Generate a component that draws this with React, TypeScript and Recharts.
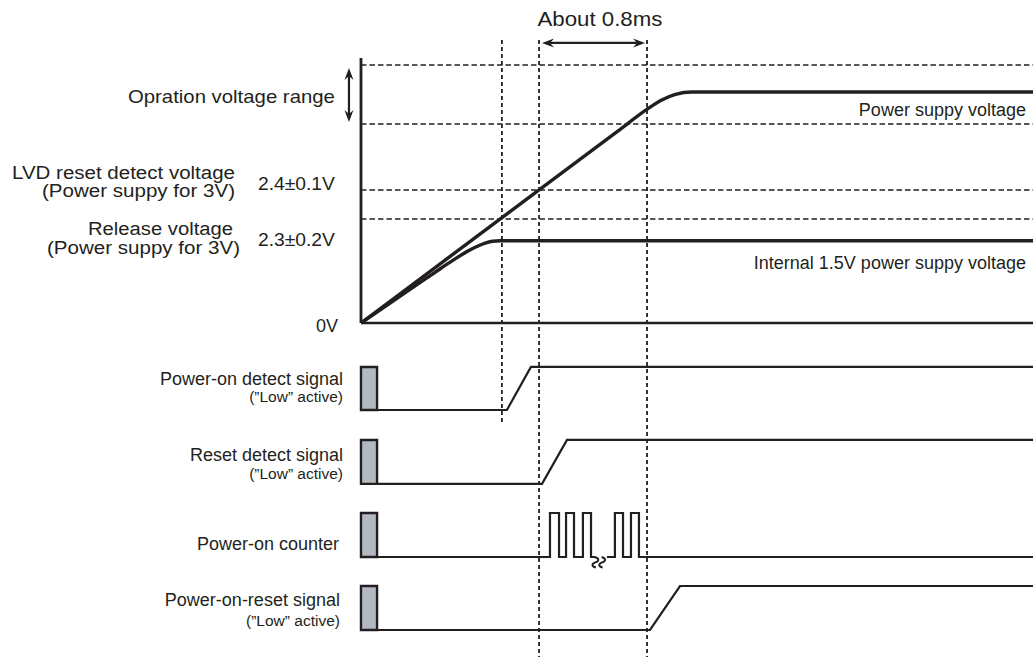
import { LineChart, Line, XAxis, YAxis, ReferenceLine, ReferenceArea, ReferenceDot } from "recharts";

const INK = "#231f20";
const BOX_FILL = "#b3b9c1";
const FONT = '"Liberation Sans", Arial, Helvetica, sans-serif';

// x = time in ms (0 = power applied), y = diagram level (0 = 0V)
const X_DOMAIN = [-2.674, 4.978];
const Y_DOMAIN = [-4.338, 4.195];
const T_END = 4.978;

// voltage panel
const supplyT = [0, 1.0, 1.9, 2.12, 2.22, 2.33, 2.45, T_END];
const supplyV = [0, 1.31, 2.489, 2.777, 2.89, 2.97, 3.0, 3.0];
const internalT = [0, 0.24, 0.48, 0.59, 0.7, 0.81, 0.92, 0.975, 1.03, T_END];
const internalV = [0, 0.288, 0.576, 0.708, 0.836, 0.95, 1.036, 1.062, 1.068, 1.068];
const dashedLevels = [3.35, 2.585, 1.727, 1.351];
const axisTop = 3.442;

// event times (vertical dashed markers)
const markerTimes = [1.044, 1.319, 2.119];
const markerTops = [3.676, 3.676, 3.676];
const markerBottoms = [-1.324, -4.338, -4.338];

// digital signals: [low, high] levels, edges
const detectLevels = [-1.13, -0.571];
const detectEdge = [1.081, 1.259];
const resetLevels = [-2.09, -1.519];
const resetEdge = [1.341, 1.526];
const counterLevels = [-3.039, -2.468];
const counterPulses = [
  [1.4, 1.467],
  [1.519, 1.578],
  [1.644, 1.704],
  [1.881, 1.941],
  [2.0, 2.059],
];
const counterBreak = [1.733, 1.822];
const squiggleT = [1.755, 1.805];
const porLevels = [-3.987, -3.416];
const porEdge = [2.141, 2.363];
const boxEnd = 0.119;

// texts
const voltageLabels = [
  "Opration voltage range",
  "LVD reset detect voltage",
  "(Power suppy for 3V)",
  "Release voltage",
  "(Power suppy for 3V)",
];
const voltageValues = ["2.4±0.1V", "2.3±0.2V", "0V"];
const signalNames = ["Power-on detect signal", "Reset detect signal", "Power-on counter", "Power-on-reset signal"];
const lowActive = "(”Low” active)";
const curveNames = ["Power suppy voltage", "Internal 1.5V power suppy voltage"];
const timeNote = "About 0.8ms";

const zip = (ts: number[], vs: number[]) => ts.map((t, i) => ({ t, v: vs[i] }));

const ramp = (lv: number[], edge: number[]) => [
  { t: boxEnd, v: lv[0] },
  { t: edge[0], v: lv[0] },
  { t: edge[1], v: lv[1] },
  { t: T_END, v: lv[1] },
];

const counterData = () => {
  const [lo, hi] = counterLevels;
  const pts: { t: number; v: number | null }[] = [{ t: boxEnd, v: lo }];
  counterPulses.forEach(([r, f], i) => {
    if (i === 3) {
      pts.push({ t: counterBreak[0], v: lo });
      pts.push({ t: (counterBreak[0] + counterBreak[1]) / 2, v: null });
      pts.push({ t: counterBreak[1], v: lo });
    }
    pts.push({ t: r, v: lo }, { t: r, v: hi }, { t: f, v: hi }, { t: f, v: lo });
  });
  pts.push({ t: T_END, v: lo });
  return pts;
};

const DoubleArrow = (p: any) => {
  const { x1, y1, x2, y2 } = p;
  const dx = x2 - x1;
  const dy = y2 - y1;
  const len = Math.hypot(dx, dy) || 1;
  const ux = dx / len;
  const uy = dy / len;
  const nx = -uy;
  const ny = ux;
  const L = 12;
  const W = 4.5;
  const N = 8;
  const head = (tx: number, ty: number, d: number) => {
    const bx = tx - d * ux * L;
    const by = ty - d * uy * L;
    const mx = tx - d * ux * N;
    const my = ty - d * uy * N;
    return `M${tx},${ty} L${bx + nx * W},${by + ny * W} L${mx},${my} L${bx - nx * W},${by - ny * W} Z `;
  };
  return (
    <g>
      <line x1={x1 + ux * 6} y1={y1 + uy * 6} x2={x2 - ux * 6} y2={y2 - uy * 6} stroke={INK} strokeWidth={2.2} />
      <path d={head(x2, y2, 1) + head(x1, y1, -1)} fill={INK} />
    </g>
  );
};

// small break mark hanging from the counter baseline
const Squiggle = (p: any) => {
  const { cx, cy } = p;
  return (
    <path
      d={`M${cx - 3},${cy} c 4.5,1.5 4.5,4 0.5,5.5 s -4,4 0.5,5`}
      fill="none"
      stroke={INK}
      strokeWidth={1.9}
    />
  );
};

const textShape = (text: string, size: number, anchor: "start" | "middle" | "end", width?: number) => (p: any) => (
  <text
    x={p.cx}
    y={p.cy}
    textAnchor={anchor}
    fontSize={size}
    fontFamily={FONT}
    fill={INK}
    textLength={width}
    lengthAdjust={width ? "spacingAndGlyphs" : undefined}
  >
    {text}
  </text>
);

type Lbl = { text: string; t: number; v: number; size: number; anchor: "start" | "middle" | "end"; w?: number };

const labels: Lbl[] = [
  { text: voltageLabels[0], t: -0.193, v: 2.857, size: 18.5, anchor: "end", w: 207 },
  { text: voltageLabels[1], t: -0.933, v: 1.87, size: 18, anchor: "end", w: 223 },
  { text: voltageLabels[2], t: -0.933, v: 1.637, size: 18, anchor: "end", w: 193 },
  { text: voltageLabels[3], t: -0.948, v: 1.143, size: 18, anchor: "end", w: 145 },
  { text: voltageLabels[4], t: -0.896, v: 0.896, size: 18, anchor: "end", w: 193 },
  { text: voltageValues[0], t: -0.193, v: 1.727, size: 18.5, anchor: "end", w: 77 },
  { text: voltageValues[1], t: -0.193, v: 1.0, size: 18.5, anchor: "end", w: 77 },
  { text: voltageValues[2], t: -0.17, v: -0.117, size: 18, anchor: "end" },
  { text: signalNames[0], t: -0.133, v: -0.805, size: 18, anchor: "end" },
  { text: lowActive, t: -0.133, v: -1.026, size: 15.5, anchor: "end" },
  { text: signalNames[1], t: -0.133, v: -1.792, size: 18, anchor: "end" },
  { text: lowActive, t: -0.133, v: -2.026, size: 15.5, anchor: "end" },
  { text: signalNames[2], t: -0.163, v: -2.948, size: 18, anchor: "end" },
  { text: signalNames[3], t: -0.156, v: -3.675, size: 18, anchor: "end" },
  { text: lowActive, t: -0.156, v: -3.935, size: 15.5, anchor: "end" },
  { text: curveNames[0], t: 4.926, v: 2.688, size: 18, anchor: "end" },
  { text: curveNames[1], t: 4.926, v: 0.701, size: 18, anchor: "end" },
  { text: timeNote, t: 1.77, v: 3.857, size: 21, anchor: "middle", w: 125 },
];

const boxes = [detectLevels, resetLevels, counterLevels, porLevels];

export default function App() {
  return (
    <div style={{ position: "absolute", left: 0, top: 0, background: "#fff" }}>
      <LineChart width={1033} height={657} margin={{ top: 0, right: 0, bottom: 0, left: 0 }}>
        <XAxis type="number" dataKey="t" domain={X_DOMAIN} allowDataOverflow hide />
        <YAxis type="number" domain={Y_DOMAIN} allowDataOverflow hide />

        {dashedLevels.map((v) => (
          <ReferenceLine
            key={`h${v}`}
            segment={[{ x: 0, y: v }, { x: T_END, y: v }]}
            stroke={INK}
            strokeWidth={1.6}
            strokeDasharray="5.5 3"
          />
        ))}
        {markerTimes.map((t, i) => (
          <ReferenceLine
            key={`m${t}`}
            segment={[{ x: t, y: markerTops[i] }, { x: t, y: markerBottoms[i] }]}
            stroke={INK}
            strokeWidth={1.8}
            strokeDasharray="4 3"
          />
        ))}

        <ReferenceLine segment={[{ x: 0, y: axisTop }, { x: 0, y: 0 }]} stroke={INK} strokeWidth={2.8} />
        <ReferenceLine segment={[{ x: 0, y: 0 }, { x: T_END, y: 0 }]} stroke={INK} strokeWidth={2.4} />

        <ReferenceLine segment={[{ x: -0.089, y: 3.312 }, { x: -0.089, y: 2.611 }]} shape={DoubleArrow} />
        <ReferenceLine segment={[{ x: 1.341, y: 3.637 }, { x: 2.104, y: 3.637 }]} shape={DoubleArrow} />

        {boxes.map((lv, i) => (
          <ReferenceArea
            key={`b${i}`}
            x1={0}
            x2={boxEnd}
            y1={lv[0]}
            y2={lv[1]}
            fill={BOX_FILL}
            fillOpacity={1}
            stroke={INK}
            strokeWidth={2.4}
          />
        ))}

        <Line data={zip(supplyT, supplyV)} dataKey="v" type="monotone" stroke={INK} strokeWidth={3.4} dot={false} activeDot={false} isAnimationActive={false} />
        <Line data={zip(internalT, internalV)} dataKey="v" type="monotone" stroke={INK} strokeWidth={3.4} dot={false} activeDot={false} isAnimationActive={false} />

        <Line data={ramp(detectLevels, detectEdge)} dataKey="v" type="linear" stroke={INK} strokeWidth={2.2} dot={false} activeDot={false} isAnimationActive={false} />
        <Line data={ramp(resetLevels, resetEdge)} dataKey="v" type="linear" stroke={INK} strokeWidth={2.2} dot={false} activeDot={false} isAnimationActive={false} />
        <Line data={counterData()} dataKey="v" type="linear" stroke={INK} strokeWidth={2.2} dot={false} activeDot={false} isAnimationActive={false} />
        <Line data={ramp(porLevels, porEdge)} dataKey="v" type="linear" stroke={INK} strokeWidth={2.2} dot={false} activeDot={false} isAnimationActive={false} />

        {squiggleT.map((t) => (
          <ReferenceDot key={`s${t}`} x={t} y={counterLevels[0]} shape={Squiggle} />
        ))}

        {labels.map((l, i) => (
          <ReferenceDot key={`l${i}`} x={l.t} y={l.v} shape={textShape(l.text, l.size, l.anchor, l.w)} />
        ))}
      </LineChart>
    </div>
  );
}
